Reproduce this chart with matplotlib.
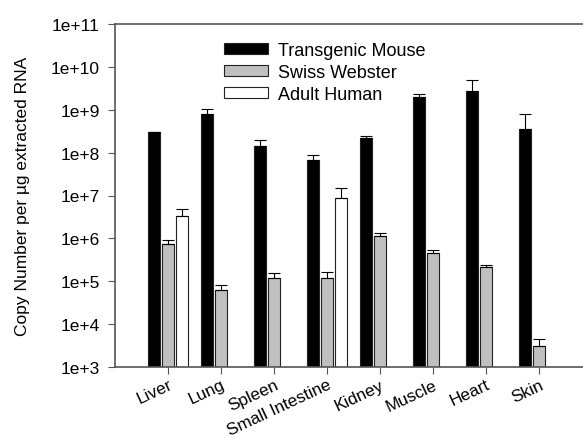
import numpy as np
import matplotlib.pyplot as plt

plt.rcParams['font.family'] = ['Liberation Sans', 'DejaVu Sans']

tejidos = ["Liver", "Lung", "Spleen", "Small Intestine", "Kidney", "Muscle", "Heart", "Skin"]

# --- valores medios ---
transgenico = [3.0e8, 8.1e8, 1.45e8, 6.7e7, 2.15e8, 1.95e9, 2.7e9, 3.55e8]
swiss = [7.4e5, 6.3e4, 1.17e5, 1.17e5, 1.12e6, 4.5e5, 2.1e5, 3.1e3]
humano = [3.4e6, np.nan, np.nan, 8.7e6, np.nan, np.nan, np.nan, np.nan]

# --- extremo superior de la barra de error ---
transgenico_sup = [3.1e8, 1.05e9, 1.95e8, 8.8e7, 2.4e8, 2.3e9, 5.0e9, 8.0e8]
swiss_sup = [9.1e5, 8.1e4, 1.55e5, 1.67e5, 1.31e6, 5.5e5, 2.45e5, 4.5e3]
humano_sup = [4.9e6, np.nan, np.nan, 1.48e7, np.nan, np.nan, np.nan, np.nan]

fig = plt.figure(figsize=(5.83, 4.39), dpi=100)
ax = fig.add_axes([115/583, 1-368/439, 1-115/583, 343/439])

x = np.arange(len(tejidos))
ancho = 0.23
desp = 0.265

series = [
    (transgenico, transgenico_sup, -desp, 'black', 'Transgenic Mouse'),
    (swiss, swiss_sup, 0.0, '#c0c0c0', 'Swiss Webster'),
    (humano, humano_sup, desp, 'white', 'Adult Human'),
]

for vals, sup, d, color, nombre in series:
    vals = np.array(vals)
    sup = np.array(sup)
    m = ~np.isnan(vals)
    base = 1e3
    ax.bar(x[m] + d, vals[m] - base, ancho, bottom=base, color=color,
           edgecolor='#222222', linewidth=0.8, label=nombre)
    err = np.vstack([np.zeros(m.sum()), sup[m] - vals[m]])
    ax.errorbar(x[m] + d, vals[m], yerr=err, fmt='none', ecolor='black',
                elinewidth=0.8, capsize=4, capthick=0.8)

ax.set_yscale('log')
ax.set_ylim(1e3, 1e11)
ax.set_xlim(-1, (583-168)/53)
ax.set_yticks([10.0**k for k in range(3, 12)])
ax.set_yticklabels(["1e+%d" % k for k in range(3, 12)], fontsize=12.5)
ax.minorticks_off()
ax.tick_params(axis='y', direction='out', length=5, pad=6, color='#555555')
ax.tick_params(axis='x', direction='out', length=5, color='#555555', pad=2)
ax.set_xticks(x)
ax.set_xticklabels(tejidos, rotation=25, ha='right', va='top',
                   rotation_mode='anchor', fontsize=12.3)

ax.set_ylabel("Copy Number per µg extracted RNA", fontsize=12.5, labelpad=15)

for lado in ['top', 'left', 'bottom']:
    ax.spines[lado].set_color('#555555')
    ax.spines[lado].set_linewidth(1.2)
ax.spines['right'].set_visible(False)

ax.legend(loc='upper left', bbox_to_anchor=(0.195, 1.0), frameon=False, fontsize=13,
          handlelength=2.4, handleheight=0.55, labelspacing=0.28, handletextpad=0.6,
          borderaxespad=0.6)

plt.savefig("out.png", dpi=100)
